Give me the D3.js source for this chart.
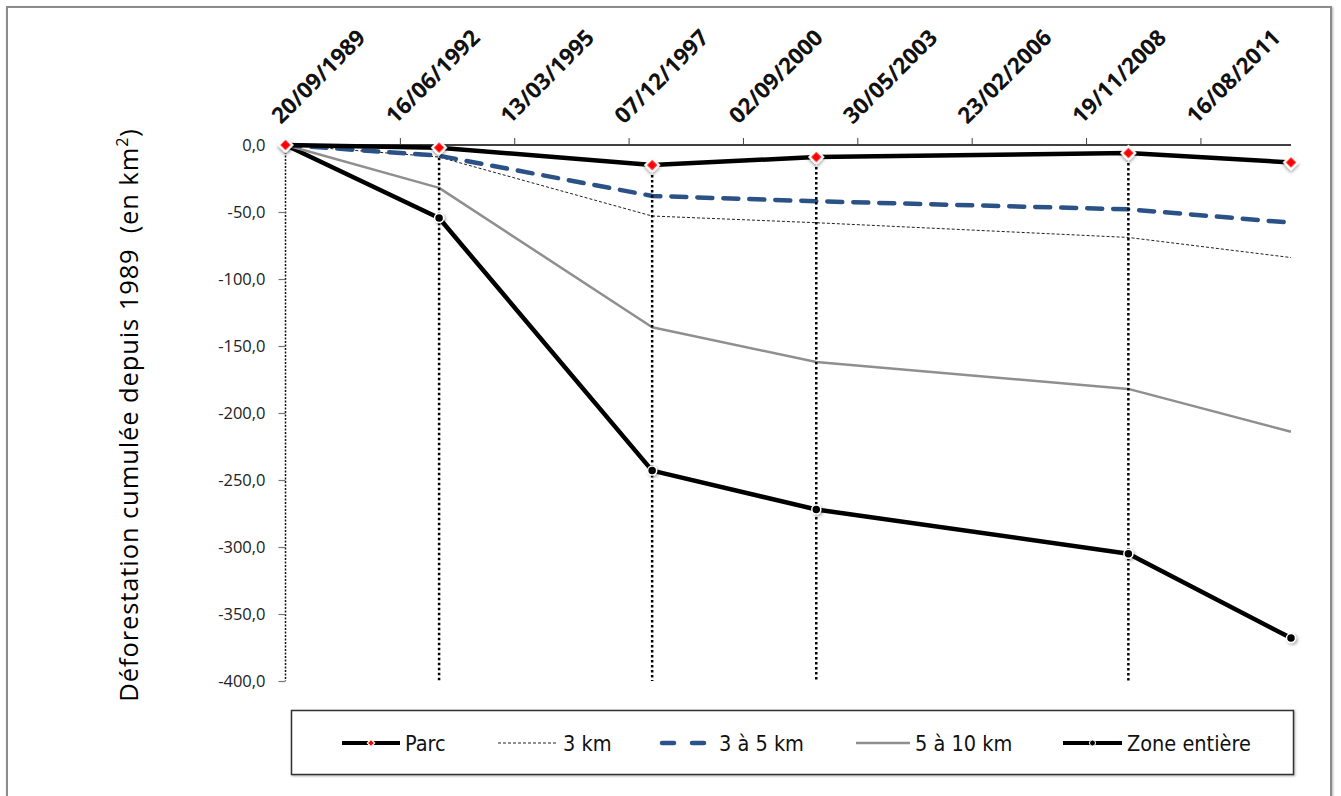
<!DOCTYPE html>
<html>
<head>
<meta charset="utf-8">
<script src="https://cdn.jsdelivr.net/npm/d3@7"></script>
<style>
  html, body { margin: 0; padding: 0; background: #fff; }
  svg { display: block; }
</style>
</head>
<body>
<svg id="chart" width="1341" height="796"></svg>
<script>
// ---------- DATA ----------
const dates = ["1989-09-20", "1993-05-25", "1998-07-01", "2002-06-05", "2009-11-24", "2013-10-16"];
const parc = [0, -2, -15, -9, -6, -13];
const km3 = [0, -9, -53, -58, -69, -84];
const km3to5 = [0, -8, -38, -42, -48, -58];
const km5to10 = [0, -32, -136, -162, -182, -214];
const zone = [0, -54.5, -243, -272, -305, -368];
const xTickLabels = ["20/09/1989", "16/06/1992", "13/03/1995", "07/12/1997", "02/09/2000",
                     "30/05/2003", "23/02/2006", "19/11/2008", "16/08/2011"];
const yTicks = [0, -50, -100, -150, -200, -250, -300, -350, -400];
const seriesNames = ["Parc", "3 km", "3 à 5 km", "5 à 10 km", "Zone entière"];

// ---------- SETUP ----------
const svg = d3.select("#chart");
const parseISO = d3.utcParse("%Y-%m-%d");
const parseFR = d3.utcParse("%d/%m/%Y");
const dateVals = dates.map(parseISO);
const tickDates = xTickLabels.map(parseFR);

const x = d3.scaleUtc().domain([dateVals[0], dateVals[dateVals.length - 1]]).range([285.5, 1291]);
const y = d3.scaleLinear().domain([-400, 0]).range([681, 145]);

const defs = svg.append("defs");
const f = defs.append("filter").attr("id", "shadow").attr("x", "-60%").attr("y", "-60%").attr("width", "220%").attr("height", "220%");
f.append("feDropShadow").attr("dx", 1.5).attr("dy", 1.5).attr("stdDeviation", 1.5).attr("flood-color", "#000").attr("flood-opacity", 0.35);
const fb = defs.append("filter").attr("id", "frameShadow").attr("x", "-5%").attr("y", "-5%").attr("width", "110%").attr("height", "110%");
fb.append("feDropShadow").attr("dx", 1).attr("dy", 1).attr("stdDeviation", 1).attr("flood-color", "#000").attr("flood-opacity", 0.3);

// Outer frame
svg.append("rect").attr("x", 7).attr("y", 7).attr("width", 1324).attr("height", 820)
  .attr("fill", "#fff").attr("stroke", "#8c8c8c").attr("stroke-width", 2).attr("filter", "url(#frameShadow)");

// ---------- X AXIS (top) ----------
const xAxis = d3.axisTop(x).tickValues(tickDates).tickSize(7).tickFormat("");
const gx = svg.append("g").attr("transform", `translate(0,${y(0)})`).call(xAxis);
gx.select(".domain").attr("stroke", "#000").attr("stroke-width", 1.5).attr("d", `M${x.range()[0]},0H${x.range()[1]}`);
gx.selectAll(".tick line").attr("stroke", "#444").attr("stroke-width", 1);
gx.selectAll(".tick").append("text")
  .text((d, i) => xTickLabels[i])
  .attr("transform", "translate(-5,-20) rotate(-45)")
  .attr("text-anchor", "start")
  .attr("fill", "#111")
  .style("font-family", "'Open Sans', sans-serif")
  .style("font-weight", "bold")
  .style("font-size", "22.5px");

// ---------- Y AXIS ----------
const fmt = v => d3.format(".1f")(v).replace(".", ",").replace("−", "-");
const yAxis = d3.axisLeft(y).tickValues(yTicks).tickSize(7).tickPadding(13).tickFormat(fmt);
const gy = svg.append("g").attr("transform", `translate(${x.range()[0]},0)`).call(yAxis);
gy.select(".domain").attr("stroke", "#111").attr("stroke-width", 1.5).attr("stroke-dasharray", "2,1.5")
  .attr("d", `M0,${y(0)}V${y(-400)}`);
gy.selectAll(".tick line").attr("stroke", "#777").attr("stroke-width", 1.2);
gy.selectAll(".tick text")
  .attr("fill", "#222")
  .style("font-family", "'Open Sans', sans-serif")
  .style("font-size", "16.5px");

// Y title
svg.append("text")
  .attr("transform", `translate(138,${(122 + 708) / 2}) rotate(-90)`)
  .attr("text-anchor", "middle")
  .attr("fill", "#000")
  .style("font-family", "'Open Sans', sans-serif")
  .style("font-size", "25.5px")
  .style("letter-spacing", "0.9px")
  .html('Déforestation cumulée depuis 1989\u00a0 (en km<tspan dy="-10" font-size="16px">2</tspan><tspan dy="10">)</tspan>');

// ---------- LINES ----------
const line = d3.line().x((d, i) => x(dateVals[i])).y(d => y(d));
const styles = [
  { data: parc, stroke: "#000", width: 4.5, dash: null },
  { data: km3, stroke: "#222", width: 1, dash: "3,2" },
  { data: km3to5, stroke: "#2b5287", width: 4.5, dash: "15,11", cap: "round" },
  { data: km5to10, stroke: "#8f8f8f", width: 2.5, dash: null },
  { data: zone, stroke: "#000", width: 4.5, dash: null }
];
const drawOrder = [4, 3, 1, 2, 0];
drawOrder.forEach(k => {
  const s = styles[k];
  svg.append("path").datum(s.data)
    .attr("d", line)
    .attr("fill", "none")
    .attr("stroke", s.stroke)
    .attr("stroke-width", s.width)
    .attr("stroke-dasharray", s.dash)
    .attr("stroke-linecap", s.cap || "butt")
    .attr("stroke-linejoin", "round");
});

// ---------- DROP LINES ----------
const allSeries = [parc, km3, km3to5, km5to10, zone];
const dropIdx = dateVals.map((d, i) => i).filter(i => i > 0 && i < dateVals.length - 1);
svg.append("g").selectAll("line").data(dropIdx).join("line")
  .attr("x1", i => x(dateVals[i])).attr("x2", i => x(dateVals[i]))
  .attr("y1", i => y(d3.max(allSeries, s => s[i])))
  .attr("y2", y(-400))
  .attr("stroke", "#000").attr("stroke-width", 2.5).attr("stroke-dasharray", "2.5,2.5");

// ---------- MARKERS ----------
svg.append("g").selectAll("circle").data(zone).join("circle")
  .attr("cx", (d, i) => x(dateVals[i])).attr("cy", d => y(d)).attr("r", 4.5)
  .attr("fill", "#000").attr("stroke", "#fff").attr("stroke-width", 1.5)
  .attr("filter", "url(#shadow)");
svg.append("g").selectAll("rect").data(parc).join("rect")
  .attr("x", -4.8).attr("y", -4.8).attr("width", 9.6).attr("height", 9.6)
  .attr("transform", (d, i) => `translate(${x(dateVals[i])},${y(d)}) rotate(45)`)
  .attr("fill", "#ff0000").attr("stroke", "#fff").attr("stroke-width", 2.2)
  .attr("filter", "url(#shadow)");

// ---------- LEGEND ----------
const lg = svg.append("g");
lg.append("rect").attr("x", 291.5).attr("y", 710.5).attr("width", 1002).attr("height", 64)
  .attr("fill", "#fff").attr("stroke", "#333").attr("stroke-width", 1.5).attr("filter", "url(#frameShadow)");
const legendX = [342, 498, 658, 856, 1063];
const legendW = [58, 60, 56, 54, 59];
const ly = 743;
seriesNames.forEach((name, k) => {
  const s = styles[k];
  const x0 = legendX[k], x1 = legendX[k] + legendW[k];
  let lx0 = x0, lx1 = x1;
  if (k === 2) { lx0 = x0 + 4; lx1 = x1 - 4; }
  lg.append("line").attr("x1", lx0).attr("x2", lx1).attr("y1", ly).attr("y2", ly)
    .attr("stroke", s.stroke).attr("stroke-width", k === 0 || k === 4 ? 4 : s.width)
    .attr("stroke-dasharray", k === 2 ? "12,18" : s.dash)
    .attr("stroke-linecap", s.cap || "butt");
  if (k === 0) {
    lg.append("rect").attr("x", -2.6).attr("y", -2.6).attr("width", 5.2).attr("height", 5.2)
      .attr("transform", `translate(${(x0 + x1) / 2},${ly}) rotate(45)`)
      .attr("fill", "#ff0000").attr("stroke", "#fff").attr("stroke-width", 1.2);
  }
  if (k === 4) {
    lg.append("circle").attr("cx", (x0 + x1) / 2).attr("cy", ly).attr("r", 3)
      .attr("fill", "#000").attr("stroke", "#fff").attr("stroke-width", 1);
  }
  lg.append("text").attr("x", x1 + 5).attr("y", ly).attr("dy", "0.36em")
    .attr("fill", "#111")
    .style("font-family", "'Liberation Sans Narrow', 'DejaVu Sans Condensed', sans-serif")
    .style("font-size", "21.5px")
    .text(name);
});
</script>
</body>
</html>
